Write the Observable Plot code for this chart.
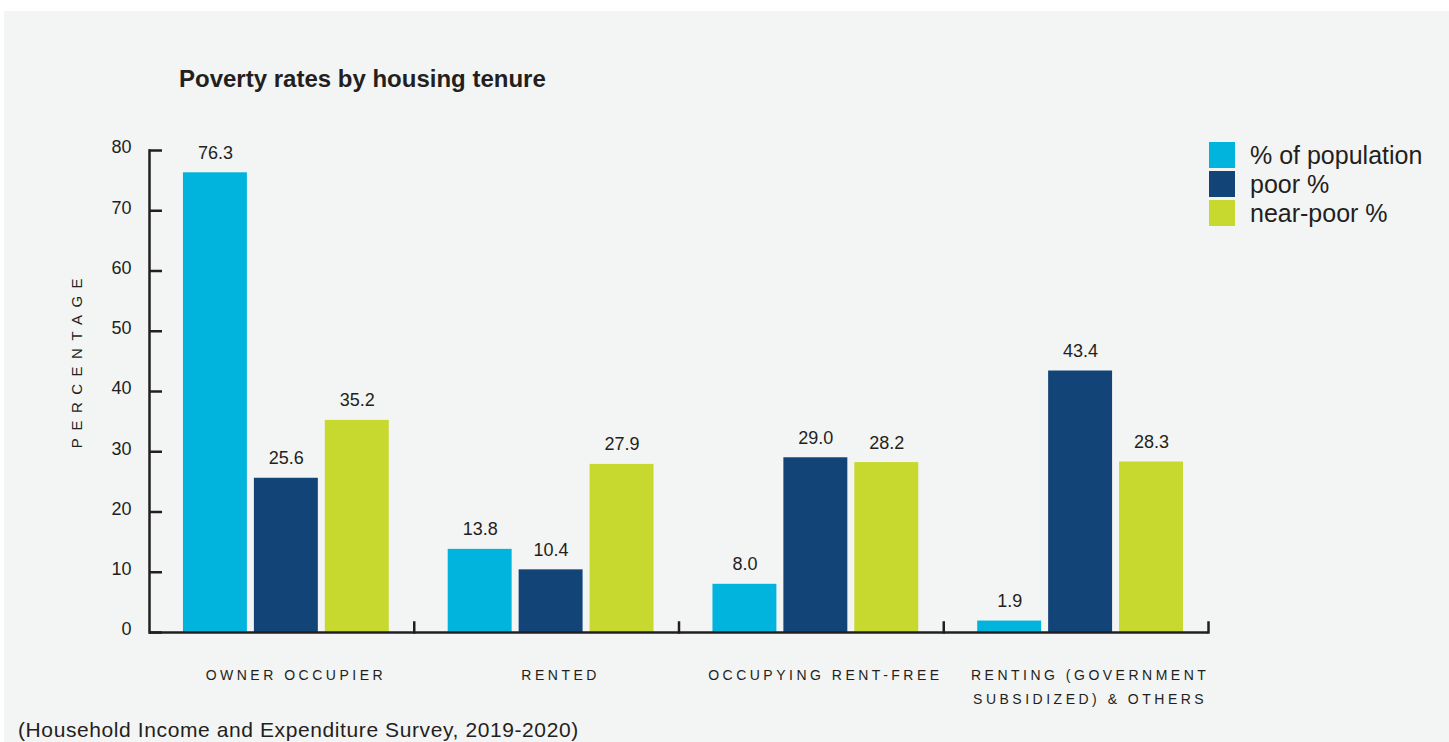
<!DOCTYPE html>
<html>
<head>
<meta charset="utf-8">
<script src="https://cdn.jsdelivr.net/npm/d3@7"></script>
<script src="https://cdn.jsdelivr.net/npm/@observablehq/plot@0.6"></script>
<style>
html,body{margin:0;padding:0;background:#ffffff;width:1449px;height:742px;overflow:hidden;font-family:"Liberation Sans",Arial,Helvetica,sans-serif;color:#231f20;}
#panel{position:absolute;left:4px;top:11px;width:1445px;height:731px;background:#f3f4f4;}
#chart{position:absolute;left:0;top:0;}
#title{position:absolute;left:179px;top:67px;font-size:24px;font-weight:bold;line-height:24px;white-space:nowrap;}
#caption{position:absolute;left:18px;top:719px;font-size:21px;line-height:21px;letter-spacing:0.6px;white-space:nowrap;}
#legend{position:absolute;left:1209px;top:142px;}
.item{display:flex;align-items:center;height:26px;margin-bottom:3px;}
.sw{width:26px;height:26px;margin-right:15px;flex:none;}
.lab{font-size:25px;line-height:26px;white-space:nowrap;}
g[aria-label="fx-axis tick label"] text{letter-spacing:3.5px;}
</style>
</head>
<body>
<div id="panel"></div>
<div id="chart"></div>
<div id="title"></div>
<div id="legend"></div>
<div id="caption"></div>
<script>
// ---- data ----
const titleText = "Poverty rates by housing tenure";
const captionText = "(Household Income and Expenditure Survey, 2019-2020)";
const yLabel = "PERCENTAGE";
const categories = ["OWNER OCCUPIER", "RENTED", "OCCUPYING RENT-FREE", "RENTING (GOVERNMENT SUBSIDIZED) & OTHERS"];
const categoryLabels = ["OWNER OCCUPIER", "RENTED", "OCCUPYING RENT-FREE", "RENTING (GOVERNMENT\nSUBSIDIZED) & OTHERS"];
const series = ["% of population", "poor %", "near-poor %"];
const populationPct = [76.3, 13.8, 8.0, 1.9];
const poorPct = [25.6, 10.4, 29.0, 43.4];
const nearPoorPct = [35.2, 27.9, 28.2, 28.3];
const yTicks = [0, 10, 20, 30, 40, 50, 60, 70, 80];
const colors = ["#00b4de", "#124477", "#c7d92e"];

const ink = "#231f20";
const seriesValues = [populationPct, poorPct, nearPoorPct];
const rows = categories.flatMap((c, i) => series.map((s, j) => ({category: c, series: s, value: seriesValues[j][i]})));

const chart = Plot.plot({
  width: 1449,
  height: 720,
  marginTop: 150,
  marginBottom: 88,
  marginLeft: 149,
  marginRight: 241,
  style: {background: "transparent", fontFamily: "'Liberation Sans', Arial, Helvetica, sans-serif", color: ink},
  fx: {domain: categories, padding: 0, label: null, round: false},
  x: {domain: series, paddingInner: 0.0986, paddingOuter: 0.4155, align: 0.576, round: false, axis: null},
  y: {domain: [0, 80], label: null},
  color: {domain: series, range: colors},
  marks: [
    Plot.barY(rows, {fx: "category", x: "series", y: "value", fill: "series"}),
    Plot.text(rows, {fx: "category", x: "series", y: "value", text: d => d.value.toFixed(1), dy: -14, lineAnchor: "bottom", fontSize: 18, fill: ink}),
    Plot.ruleY([0], {stroke: ink, strokeWidth: 2.5}),
    Plot.frame({anchor: "left", facetAnchor: "left", stroke: ink, strokeWidth: 2.5}),
    Plot.frame({anchor: "right", insetTop: 472, stroke: ink, strokeWidth: 2.5}),
    Plot.axisY({ticks: yTicks, tickSize: -13, fill: "none", stroke: ink, strokeWidth: 2.5, label: null}),
    Plot.axisY({ticks: yTicks, tickSize: 0, tickPadding: 18, fontSize: 18, dy: -3, fill: ink, label: null}),
    Plot.text([yLabel], {frameAnchor: "left", facetAnchor: "left", rotate: -90, dx: -72, dy: -32, textAnchor: "middle", fontSize: 15, fill: ink}),
    Plot.axisFx({anchor: "bottom", tickSize: 0, tickPadding: 30, fontSize: 14, lineHeight: 1.75, dx: 14, fill: ink, label: null,
      tickFormat: d => categoryLabels[categories.indexOf(d)]})
  ]
});
d3.select(chart).selectAll("text").filter(function() { return this.textContent === yLabel; })
  .style("letter-spacing", "7.5px").style("font-size", "15px");
document.getElementById("chart").appendChild(chart);

document.getElementById("title").textContent = titleText;
document.getElementById("caption").textContent = captionText;
const legend = document.getElementById("legend");
series.forEach((s, i) => {
  const item = document.createElement("div");
  item.className = "item";
  const sw = document.createElement("div");
  sw.className = "sw";
  sw.style.background = colors[i];
  const lab = document.createElement("div");
  lab.className = "lab";
  lab.textContent = s;
  item.appendChild(sw);
  item.appendChild(lab);
  legend.appendChild(item);
});
</script>
</body>
</html>
